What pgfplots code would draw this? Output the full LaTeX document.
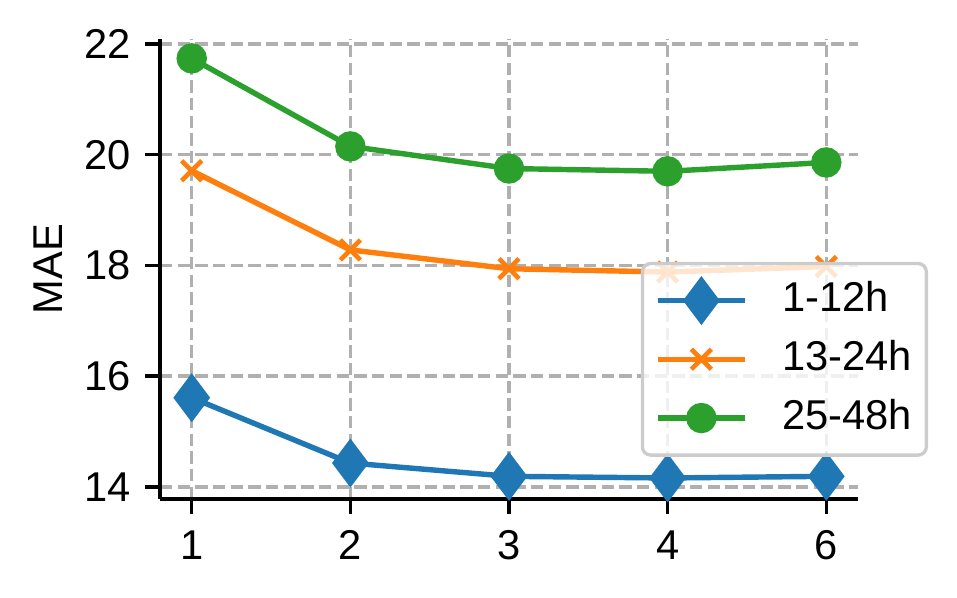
\documentclass[border=0pt]{standalone}
\usepackage{fontspec}
\setmainfont{Liberation Sans}
\usepackage{pgfplots}
\pgfplotsset{compat=1.18}
\definecolor{tabblue}{HTML}{1F77B4}
\definecolor{taborange}{HTML}{FF7F0E}
\definecolor{tabgreen}{HTML}{2CA02C}
\definecolor{gridgray}{HTML}{B0B0B0}
\begin{document}
\begin{tikzpicture}
\begin{axis}[
  scale only axis,
  width=167.52pt, height=110.4pt,
  xmin=-0.2, xmax=4.2,
  ymin=13.78, ymax=22.09,
  xtick={0,1,2,3,4}, xticklabels={1,2,3,4,6},
  ytick={14,16,18,20,22},
  axis lines=left,
  axis line style={-, line width=0.8pt},
  tick align=outside,
  tick style={line width=0.8pt, black},
  major tick length=3.5pt,
  xtick pos=bottom, ytick pos=left,
  /pgf/number format/assume math mode=true,
  ticklabel style={font=\fontsize{10}{12}\selectfont},
  xticklabel style={yshift=-0.5pt},
  grid=major,
  grid style={gridgray, dash pattern=on 2.96pt off 1.28pt, line width=0.8pt},
  ylabel={MAE},
  ylabel style={font=\fontsize{10}{12}\selectfont, at={(axis description cs:-0.1605,0.5)}, anchor=center},
  legend cell align=left,
  legend image code/.code={\draw[fill opacity=1, mark repeat=2,mark phase=2] plot coordinates {(0pt,0pt) (10.5pt,0pt) (21pt,0pt)};},
  legend style={at={(1.1003,0.0918)}, anchor=south east,
    draw=black!20, line width=0.8pt, fill=white, fill opacity=0.8, text opacity=1,
    rounded corners=2pt,
    font=\fontsize{10}{12}\selectfont,
    inner xsep=3pt, inner ysep=3.7pt,
    row sep=3.7pt, column sep=7.7pt,
    nodes={inner sep=0.5pt, text height=7.4pt, text depth=2pt}},
]
\coordinate (sw) at (rel axis cs:0,0);
\coordinate (ne) at (rel axis cs:1,1);
\addplot[tabblue, line width=1.3pt, mark=diamond*, mark size=4.8pt, mark options={solid}]
  coordinates {(0,15.61) (1,14.43) (2,14.19) (3,14.16) (4,14.19)};
\addlegendentry{1-12h}
\addplot[taborange, line width=1.3pt, mark=x, mark size=3.4pt, mark options={solid, line width=1.1pt}]
  coordinates {(0,19.71) (1,18.28) (2,17.94) (3,17.88) (4,17.98)};
\addlegendentry{13-24h}
\addplot[tabgreen, line width=1.3pt, mark=*, mark size=3pt, mark options={solid}]
  coordinates {(0,21.74) (1,20.15) (2,19.75) (3,19.70) (4,19.86)};
\addlegendentry{25-48h}
\end{axis}
\pgfresetboundingbox
\useasboundingbox ([shift={(-38.4pt,-23.52pt)}]sw) rectangle ([shift={(23.76pt,9.36pt)}]ne);
\end{tikzpicture}
\end{document}
